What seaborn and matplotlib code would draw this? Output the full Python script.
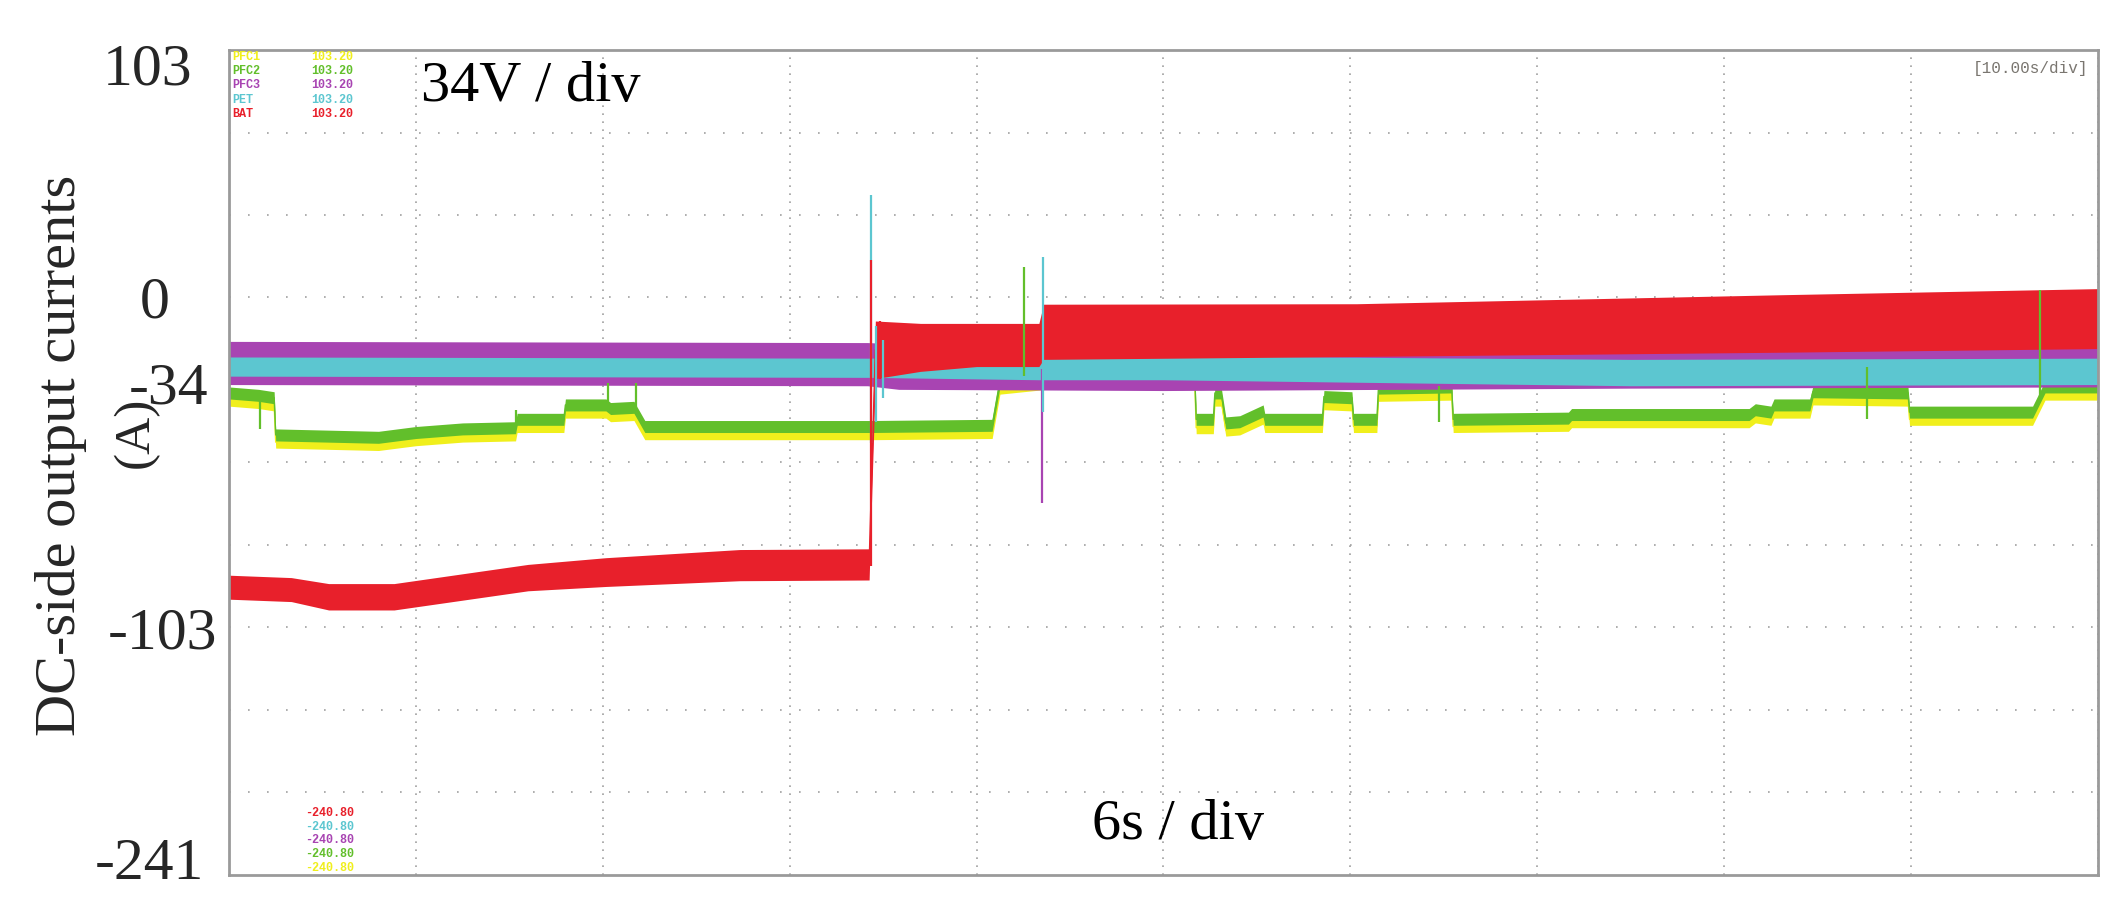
import numpy as np
import seaborn as sns
import matplotlib.pyplot as plt
from matplotlib.ticker import FixedLocator
from matplotlib.transforms import ScaledTranslation

# time axis (s), 6 s per division
t_bat = [0, 2.0, 3.2, 5.3, 9.6, 12.1, 16.4, 20.55, 20.75, 22.2, 24.0, 26.0, 26.15, 36.2, 50.0, 60.0]
bat = [-121, -122, -125, -125, -117, -114.7, -111.8, -111.5, -22, -21, -20, -20, -14.5, -13.8, -11, -9]
bat_hw = [5, 5, 5.5, 5.5, 5.5, 6, 6.5, 6.5, 12, 10, 9, 9, 11.5, 11, 12, 12.5]

t_pfc3 = [0, 20.5, 21.5, 30.0, 45.0, 60.0]
pfc3 = [-27.5, -28, -29, -31, -29.5, -29]
pfc3_hw = [9, 9, 9.5, 8, 8.5, 8.5]

t_pet = [0, 20.5, 26.0, 30.0, 45.0, 60.0]
pet = [-29, -29.5, -29.5, -29.5, -31.5, -31]
pet_hw = [4, 4, 5, 5, 5.5, 5.5]

t_pfc = [0, 0.95, 1.45, 1.5, 4.8, 6.0, 7.5, 9.2, 9.25, 10.75, 10.8, 12.1, 12.25, 13.0, 13.35,
         20.6, 24.5, 24.75, 27.0, 31.0, 31.05, 31.6, 31.65, 31.85, 32.0, 32.45, 33.2, 33.25,
         35.1, 35.15, 36.05, 36.1, 36.85, 36.9, 39.25, 39.3, 43.0, 43.1, 48.8, 49.0, 49.5,
         49.6, 50.75, 50.85, 53.9, 53.95, 57.9, 58.3, 60.0]
pfc2 = [-40, -41, -42, -57.5, -58.5, -56.5, -55, -54.5, -51, -51, -45, -45, -46.5, -46, -54,
        -54, -53.5, -35, -32, -31, -51, -51, -40, -40, -52.5, -52, -47.5, -51,
        -51, -41.5, -42, -51, -51, -38, -37.5, -51, -50.5, -49, -49, -47, -48,
        -45, -45, -39.5, -40, -48, -48, -37.5, -37.5]
pfc1 = [-43, -44, -45, -60.5, -61.5, -59.5, -58, -57.5, -54, -54, -48, -48, -49.5, -49, -57,
        -57, -56.5, -38, -35, -34, -54.5, -54.5, -43, -43, -55.5, -55, -50.5, -54,
        -54, -44.5, -45, -54, -54, -41, -40.5, -54, -53.5, -52, -52, -50, -51,
        -48, -48, -42.5, -43, -51, -51, -40.5, -40.5]
pfc_hw = 2.5

# spikes: time, low, high
bat_spk_t, bat_spk_lo, bat_spk_hi = [20.62, 20.9, 21.2], [-112, -34, -32], [15.4, -10, -12]
pet_spk_t, pet_spk_lo, pet_spk_hi = [20.6, 20.78, 21.0, 26.13], [-61, -52, -42, -48], [42.5, -12, -18, 16.7]
pfc3_spk_t, pfc3_spk_lo, pfc3_spk_hi = [26.1], [-86], [-30]
pfc2_spk_t = [1.0, 9.2, 12.17, 13.07, 25.52, 38.85, 52.58, 58.15]
pfc2_spk_lo = [-55, -54, -46, -46, -33, -52, -51, -42]
pfc2_spk_hi = [-41, -47, -36, -36, 12.5, -37, -29, 3]

y_ticks = [97, 0, -36, -138, -234]
y_ticklabels = ['103', '0', '-34', '-103', '-241']
y_label_shift_px = [0, -23, 15, 24, 11]

names = ['PFC1', 'PFC2', 'PFC3', 'PET', 'BAT']
C_YEL, C_GRN, C_PUR, C_CYN, C_RED = '#f0ef1c', '#62bf2b', '#a844b2', '#5cc6d0', '#e8202b'
top_colors = [C_YEL, C_GRN, C_PUR, C_CYN, C_RED]
bot_colors = [C_RED, C_CYN, C_PUR, C_GRN, C_YEL]

sns.set_theme(style="white")
plt.rcParams['font.family'] = ['Liberation Serif', 'DejaVu Serif']

fig = plt.figure(figsize=(21.28, 9.16), dpi=100)
ax = fig.add_axes([0.1076, 0.0448, 0.8783, 0.9006])


def band(t, v, hw, color):
    t = np.asarray(t, float)
    v = np.asarray(v, float)
    hw = np.broadcast_to(np.asarray(hw, float), v.shape)
    ax.fill_between(t, v - hw, v + hw, color=color, lw=0, zorder=2)
    sns.lineplot(x=t, y=v, color=color, lw=1, estimator=None, sort=False, ax=ax, zorder=2)


def spikes(t, lo, hi, color):
    ax.vlines(t, lo, hi, colors=color, lw=1.6, zorder=3)


band(t_pfc, pfc1, pfc_hw, C_YEL)
band(t_pfc, pfc2, pfc_hw, C_GRN)
spikes(pfc2_spk_t, pfc2_spk_lo, pfc2_spk_hi, C_GRN)
band(t_pfc3, pfc3, pfc3_hw, C_PUR)
spikes(pfc3_spk_t, pfc3_spk_lo, pfc3_spk_hi, C_PUR)
band(t_pet, pet, pet_hw, C_CYN)
spikes(pet_spk_t, pet_spk_lo, pet_spk_hi, C_CYN)
band(t_bat, bat, bat_hw, C_RED)
spikes(bat_spk_t, bat_spk_lo, bat_spk_hi, C_RED)

ax.set_xlim(0, 60)
ax.set_ylim(-241, 103)

# scope grid: 10 x 10 divisions
ax.set_xticks(np.arange(0, 61, 6))
ax.set_xticklabels([])
ax.yaxis.set_minor_locator(FixedLocator(np.linspace(-241, 103, 11)[1:-1]))
ax.set_yticks(y_ticks)
ax.set_yticklabels(y_ticklabels, fontsize=43)
ax.tick_params(axis='both', which='both', length=0)
ax.tick_params(axis='y', pad=26)
for lab, dx in zip(ax.get_yticklabels(), y_label_shift_px):
    lab.set_transform(lab.get_transform() + ScaledTranslation(dx / 100, 0, fig.dpi_scale_trans))
ax.grid(which='major', axis='x', color='#a0a0a0', lw=1.2, linestyle=(0, (1, 3.8)))
ax.grid(which='minor', axis='y', color='#a0a0a0', lw=1.2, linestyle=(0, (1, 10.4)))
ax.grid(which='major', axis='y', visible=False)
ax.set_axisbelow(True)

for s in ax.spines.values():
    s.set_color('#9a9a9a')
    s.set_linewidth(2)

fig.text(61 / 2128, 1 - 455 / 916, 'DC-side output currents', rotation=90, fontsize=42,
         ha='center', va='center')
fig.text(136 / 2128, 1 - 432 / 916, '(A)', rotation=90, fontsize=37,
         ha='center', va='center')

ax.text(0.103, 0.955, '34V / div', transform=ax.transAxes, fontsize=42,
        va='center', ha='left', color='black')
ax.text(0.462, 0.061, '6s / div', transform=ax.transAxes, fontsize=42,
        va='center', ha='left', color='black')
ax.text(0.995, 0.978, '[10.00s/div]', transform=ax.transAxes, fontsize=11.5,
        va='center', ha='right', color='#7a7670', family='Liberation Mono')

for i, (nm, c) in enumerate(zip(names, top_colors)):
    y = 0.991 - i * 0.017
    ax.text(0.002, y, nm, transform=ax.transAxes, fontsize=8.5, color=c,
            va='center', ha='left', family='Liberation Mono', fontweight='bold')
    ax.text(0.044, y, '103.20', transform=ax.transAxes, fontsize=8.5, color=c,
            va='center', ha='left', family='Liberation Mono', fontweight='bold')
for i, c in enumerate(bot_colors):
    y = 0.075 - i * 0.0165
    ax.text(0.041, y, '-240.80', transform=ax.transAxes, fontsize=8.5, color=c,
            va='center', ha='left', family='Liberation Mono', fontweight='bold')

fig.savefig('out.png', dpi=100)
plt.close(fig)
